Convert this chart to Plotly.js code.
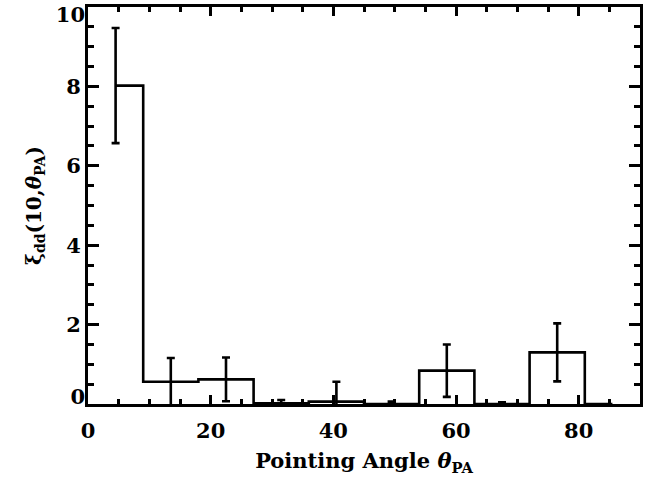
<!DOCTYPE html>
<html>
<head>
<meta charset="utf-8">
<script src="https://cdn.plot.ly/plotly-3.0.1.min.js"></script>
<style>html,body{margin:0;padding:0;background:#fff}#chart{width:653px;height:478px}</style>
</head>
<body>
<div id="chart"></div>
<script>
// Bin centres (degrees) and histogram values
const binCenters = [4.5, 13.5, 22.5, 31.5, 40.5, 49.5, 58.5, 67.5, 76.5, 85.5];
const xiValues   = [8.02, 0.56, 0.62, 0.02, 0.06, 0.0, 0.84, 0.0, 1.30, 0.0];
// Error bars (only for the first nine bins)
const errCenters = [4.5, 13.5, 22.5, 31.5, 40.5, 49.5, 58.5, 67.5, 76.5];
const errValues  = [8.02, 0.56, 0.62, 0.02, 0.06, 0.0, 0.84, 0.0, 1.30];
const errSizes   = [1.45, 0.60, 0.55, 0.08, 0.50, 0.06, 0.66, 0.04, 0.73];
const xTickVals = [0, 20, 40, 60, 80];
const yTickVals = [0, 2, 4, 6, 8, 10];
const yInnerTicks = [2, 4, 6, 8];
const yBottomTick = [0];
const yTopTick = [10];

const fontFam = '"DejaVu Serif", "Liberation Serif", serif';
const tickFont = {family: fontFam, size: 21, color: '#000', weight: 'bold'};

const hidden = {type: 'scatter', mode: 'markers', marker: {size: 0.1, color: 'rgba(0,0,0,0)'},
                hoverinfo: 'skip', showlegend: false};

const traces = [
  {
    x: binCenters, y: xiValues, type: 'scatter', mode: 'lines',
    line: {shape: 'hvh', color: '#000', width: 2.6},
    hoverinfo: 'skip', showlegend: false
  },
  Object.assign({}, hidden, {
    x: errCenters, y: errValues,
    error_y: {type: 'data', array: errSizes, visible: true, color: '#000', thickness: 2.6, width: 4}
  }),
  Object.assign({}, hidden, {x: [binCenters[0]], y: [xiValues[0]], xaxis: 'x2', yaxis: 'y2'}),
  Object.assign({}, hidden, {x: [binCenters[0]], y: [xiValues[0]], xaxis: 'x', yaxis: 'y3'}),
  Object.assign({}, hidden, {x: [binCenters[0]], y: [xiValues[0]], xaxis: 'x', yaxis: 'y4'})
];

const minorY = {dtick: 0.5, tick0: 0, ticks: 'inside', ticklen: 6, tickwidth: 3, tickcolor: '#000'};
const minorX = {dtick: 5, tick0: 0, ticks: 'inside', ticklen: 5, tickwidth: 3, tickcolor: '#000'};

const layout = {
  width: 653, height: 478,
  margin: {l: 88, r: 13, t: 7, b: 74},
  paper_bgcolor: '#fff', plot_bgcolor: '#fff',
  font: {family: fontFam, color: '#000'},
  xaxis: {
    range: [0, 90], tickvals: xTickVals, ticktext: xTickVals.map(String),
    showline: true, linecolor: '#000', linewidth: 3, mirror: true,
    ticks: 'inside', tickcolor: '#000', tickwidth: 3, ticklen: 9,
    showgrid: false, zeroline: false, tickfont: tickFont,
    ticklabelstandoff: 6, ticklabeloverflow: 'allow',
    minor: minorX,
    title: {text: '<b>Pointing Angle <i>θ</i><sub>PA</sub></b>', standoff: 12,
            font: {family: fontFam, size: 21, color: '#000'}}
  },
  xaxis2: {
    overlaying: 'x', side: 'top', matches: 'x', range: [0, 90],
    tickvals: xTickVals, showticklabels: false,
    ticks: 'inside', tickcolor: '#000', tickwidth: 3, ticklen: 9,
    showgrid: false, zeroline: false, showline: false, minor: minorX
  },
  yaxis: {
    range: [0, 10], tickvals: yTickVals, ticktext: yTickVals.map(v => yInnerTicks.includes(v) ? String(v) : ''),
    showline: true, linecolor: '#000', linewidth: 3, mirror: true,
    ticks: 'inside', tickcolor: '#000', tickwidth: 3, ticklen: 11,
    showgrid: false, zeroline: false, tickfont: tickFont,
    ticklabeloverflow: 'allow', minor: minorY,
    title: {text: '<b>ξ<sub>dd</sub>(10,<i>θ</i><sub>PA</sub>)</b>', standoff: 20,
            font: {family: fontFam, size: 20, color: '#000'}}
  },
  yaxis2: {
    overlaying: 'y', side: 'right', matches: 'y', range: [0, 10],
    tickvals: yTickVals, showticklabels: false,
    ticks: 'inside', tickcolor: '#000', tickwidth: 3, ticklen: 11,
    showgrid: false, zeroline: false, showline: false, minor: minorY
  },
  yaxis3: {
    overlaying: 'y', side: 'left', matches: 'y', range: [0, 10],
    tickvals: yBottomTick, ticktext: yBottomTick.map(String), ticks: '',
    tickfont: tickFont, ticklabelshift: -7, ticklabelstandoff: 2, ticklabeloverflow: 'allow',
    showgrid: false, zeroline: false, showline: false
  },
  yaxis4: {
    overlaying: 'y', side: 'left', matches: 'y', range: [0, 10],
    tickvals: yTopTick, ticktext: yTopTick.map(String), ticks: '',
    tickfont: tickFont, ticklabelshift: 8, ticklabelstandoff: 2, ticklabeloverflow: 'allow',
    showgrid: false, zeroline: false, showline: false
  }
};

Plotly.newPlot('chart', traces, layout, {staticPlot: true, displayModeBar: false});
</script>
</body>
</html>
